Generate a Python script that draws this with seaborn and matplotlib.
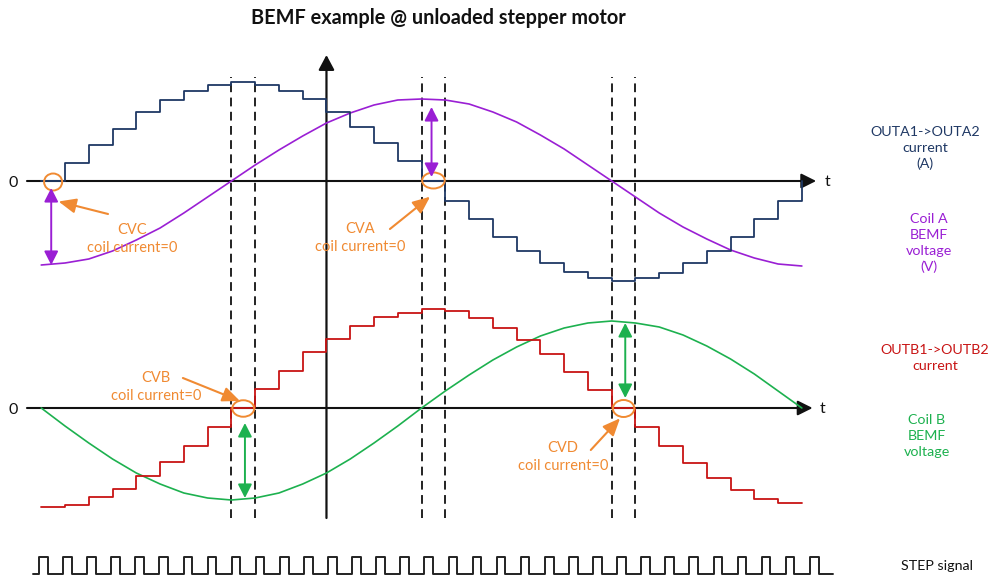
import matplotlib
matplotlib.use("Agg")
import matplotlib.pyplot as plt
from matplotlib.patches import Ellipse
import pandas as pd
import seaborn as sns

# ---------------------------------------------------------------- data
# microstep index; one current level per STEP pulse
MICROSTEP = list(range(-1, 32))

# OUTA1->OUTA2 coil current (normalised), level held from each microstep
COIL_A_CURRENT = [0.00, 0.18, 0.36, 0.52, 0.69, 0.81, 0.90, 0.96, 0.99, 0.96, 0.90,
                  0.82, 0.69, 0.54, 0.38, 0.20, 0.00, -0.20, -0.38, -0.56, -0.70,
                  -0.82, -0.91, -0.97, -1.00, -0.97, -0.92, -0.82, -0.70, -0.56,
                  -0.38, -0.20, 0.00]

# OUTB1->OUTB2 coil current (normalised)
COIL_B_CURRENT = [-0.99, -0.97, -0.89, -0.81, -0.68, -0.54, -0.38, -0.19, 0.00, 0.19,
                  0.37, 0.56, 0.69, 0.82, 0.91, 0.95, 0.99, 0.97, 0.90, 0.80, 0.68,
                  0.54, 0.36, 0.18, 0.00, -0.19, -0.38, -0.55, -0.70, -0.82, -0.91,
                  -0.95, -0.95]

# back-EMF of each coil, sampled at every microstep
COIL_A_BEMF = [-0.84, -0.82, -0.78, -0.70, -0.59, -0.47, -0.32, -0.16, 0.00, 0.16,
               0.31, 0.45, 0.58, 0.68, 0.76, 0.81, 0.82, 0.81, 0.77, 0.69, 0.59,
               0.46, 0.32, 0.16, 0.00, -0.16, -0.32, -0.46, -0.58, -0.69, -0.77,
               -0.83, -0.85]

COIL_B_BEMF = [0.00, -0.18, -0.35, -0.51, -0.65, -0.76, -0.85, -0.90, -0.92, -0.90,
               -0.85, -0.76, -0.65, -0.51, -0.35, -0.18, 0.00, 0.17, 0.33, 0.48,
               0.61, 0.72, 0.80, 0.85, 0.87, 0.85, 0.81, 0.73, 0.62, 0.49, 0.34,
               0.17, 0.00]

# zero-current windows (start microstep) and what is measured there
CV_NAMES = ["CVC", "CVA", "CVB", "CVD"]
CV_COIL = ["A", "A", "B", "B"]
CV_WINDOW = [-1, 15, 7, 23]
# BEMF read-out arrows: (from, to) in normalised volts
CV_SPAN = [(-0.07, -0.84), (0.04, 0.74), (-0.15, -0.90), (0.85, 0.10)]

STEP_PULSES = 33
STEP_DUTY = 0.36

# ---------------------------------------------------------------- style
NAVY = "#1f3864"
PURPLE = "#9a1fd4"
RED = "#c81414"
GREEN = "#1db14f"
ORANGE = "#f08a32"
INK = "#111111"

sns.set_theme(style="white")
plt.rcParams["font.family"] = ["Lato", "DejaVu Sans"]

W, H = 993, 578
fig = plt.figure(figsize=(W / 100, H / 100), dpi=100)

# horizontal scale shared by both coil panels: microsteps
X0_PX, STEP_PX = 65.0, 23.77
XLIM = (-X0_PX / STEP_PX, (W - X0_PX) / STEP_PX)


def panel(top_px, bottom_px, zero_px, unit_px=100.0):
    ax = fig.add_axes([0, 1 - bottom_px / H, 1, (bottom_px - top_px) / H])
    ax.set_xlim(*XLIM)
    ax.set_ylim((zero_px - bottom_px) / unit_px, (zero_px - top_px) / unit_px)
    ax.axis("off")
    return ax


ax_a = panel(30, 300, 181)
ax_b = panel(300, 530, 408)

# full-figure layer for guides spanning both panels
ax_o = fig.add_axes([0, 0, 1, 1], zorder=-1)
ax_o.set_xlim(*XLIM)
ax_o.set_ylim(0, 1)
ax_o.axis("off")

# dashed guides at the zero-current windows
for w in CV_WINDOW[1:]:
    for edge in (w, w + 1):
        ax_o.axvline(edge, ymin=1 - 518 / H, ymax=1 - 77 / H, color="#222222",
                     lw=1.4, ls=(0, (4.5, 2.8)))

# vertical axis with arrow
ax_o.annotate("", xy=(11, 1 - 55 / H), xytext=(11, 1 - 518 / H),
              arrowprops=dict(arrowstyle="-|>,head_length=0.6,head_width=0.32",
                              mutation_scale=15, color=INK, lw=1.6,
                              shrinkA=0, shrinkB=0))

# time axes and labels
for ax, tip, tx in ((ax_a, 31.6, 32.1), (ax_b, 31.45, 31.85)):
    ax.annotate("", xy=(tip, 0), xytext=(-1.6, 0),
                arrowprops=dict(arrowstyle="-|>,head_length=0.6,head_width=0.3",
                                mutation_scale=15, color=INK, lw=1.5,
                                shrinkA=0, shrinkB=0), zorder=1)
    ax.text(tx, -0.01, "t", ha="center", va="center", fontsize=11.5, color=INK)
    ax.text(-2.19, -0.02, "0", ha="center", va="center", fontsize=11.5, color=INK)

# currents (staircases) and back-EMF curves
df = pd.DataFrame({"k": MICROSTEP, "ia": COIL_A_CURRENT, "ib": COIL_B_CURRENT,
                   "va": COIL_A_BEMF, "vb": COIL_B_BEMF})
sns.lineplot(data=df, x="k", y="va", ax=ax_a, color=PURPLE, lw=1.2,
             estimator=None, sort=False, zorder=3)
sns.lineplot(data=df, x="k", y="ia", ax=ax_a, color=NAVY, lw=1.3,
             drawstyle="steps-post", estimator=None, sort=False, zorder=4)
sns.lineplot(data=df, x="k", y="vb", ax=ax_b, color=GREEN, lw=1.2,
             estimator=None, sort=False, zorder=3)
sns.lineplot(data=df, x="k", y="ib", ax=ax_b, color=RED, lw=1.3,
             drawstyle="steps-post", estimator=None, sort=False, zorder=4)
for ax in (ax_a, ax_b):
    ax.set_xlim(*XLIM)
    if ax.get_legend():
        ax.get_legend().remove()

# zero-current markers, read-out arrows and callouts
callouts = {
    "CVC": dict(tail=(1.81, -0.33), head=(-0.27, -0.205), text=(2.84, -0.58), size=(0.76, 0.17), cy=-0.01),
    "CVA": dict(tail=(13.67, -0.48), head=(15.36, -0.157), text=(12.41, -0.57), size=(0.95, 0.16), cy=0.005),
    "CVB": dict(tail=(4.96, 0.30), head=(7.36, 0.07), text=(3.83, 0.21), size=(0.92, 0.165), cy=-0.005),
    "CVD": dict(tail=(22.12, -0.42), head=(23.35, -0.103), text=(20.95, -0.49), size=(0.90, 0.17), cy=-0.005),
}
for name, coil, w, (v0, v1) in zip(CV_NAMES, CV_COIL, CV_WINDOW, CV_SPAN):
    ax = ax_a if coil == "A" else ax_b
    col = PURPLE if coil == "A" else GREEN
    c = callouts[name]
    xc = w + 0.5
    xa = xc - 0.08 if coil == "A" else xc + 0.07
    ax.add_patch(Ellipse((xc, c["cy"]), c["size"][0], c["size"][1], fill=False,
                         ec=ORANGE, lw=1.4, zorder=6))
    ax.annotate("", xy=(xa, v1), xytext=(xa, v0),
                arrowprops=dict(arrowstyle="<|-|>,head_length=0.55,head_width=0.28",
                                mutation_scale=15, color=col, lw=1.4,
                                shrinkA=0, shrinkB=0), zorder=6)
    ax.annotate("", xy=c["head"], xytext=c["tail"],
                arrowprops=dict(arrowstyle="-|>,head_length=0.7,head_width=0.3",
                                mutation_scale=15, color=ORANGE, lw=1.5,
                                shrinkA=0, shrinkB=0), zorder=6)
    ax.text(*c["text"], f"{name}\ncoil current=0", ha="center", va="center",
            fontsize=10.5, color=ORANGE, linespacing=1.3, zorder=6)

# STEP signal: one pulse per microstep
ax_s = fig.add_axes([0, 0, 1, 38 / H])
s_px0, s_per = 39.0, 24.09
ax_s.set_xlim(-s_px0 / s_per, (W - s_px0) / s_per)
ax_s.set_ylim(-4 / 17, 34 / 17)
ax_s.axis("off")
sx, sy = [-0.25], [0]
for j in range(STEP_PULSES):
    sx += [j, j, j + STEP_DUTY, j + STEP_DUTY]
    sy += [0, 1, 1, 0]
sx.append(STEP_PULSES - 0.04)
sy.append(0)
sns.lineplot(x=sx, y=sy, ax=ax_s, color="#222222", lw=1.4, estimator=None, sort=False)

# title and right-hand legend text
fig.text(438 / W, 1 - 18 / H, "BEMF example @ unloaded stepper motor",
         ha="center", va="center", fontsize=14.3, fontweight="bold", color=INK)
legend_text = [
    (925, 148, "OUTA1->OUTA2\ncurrent\n(A)", NAVY),
    (929, 243, "Coil A\nBEMF\nvoltage\n(V)", PURPLE),
    (935, 358, "OUTB1->OUTB2\ncurrent", RED),
    (927, 436, "Coil B\nBEMF\nvoltage", GREEN),
    (937, 566, "STEP signal", INK),
]
for x, y, s, col in legend_text:
    fig.text(x / W, 1 - y / H, s, ha="center", va="center", fontsize=10.3,
             color=col, linespacing=1.38)

fig.savefig("out.png", dpi=100, facecolor="white")
